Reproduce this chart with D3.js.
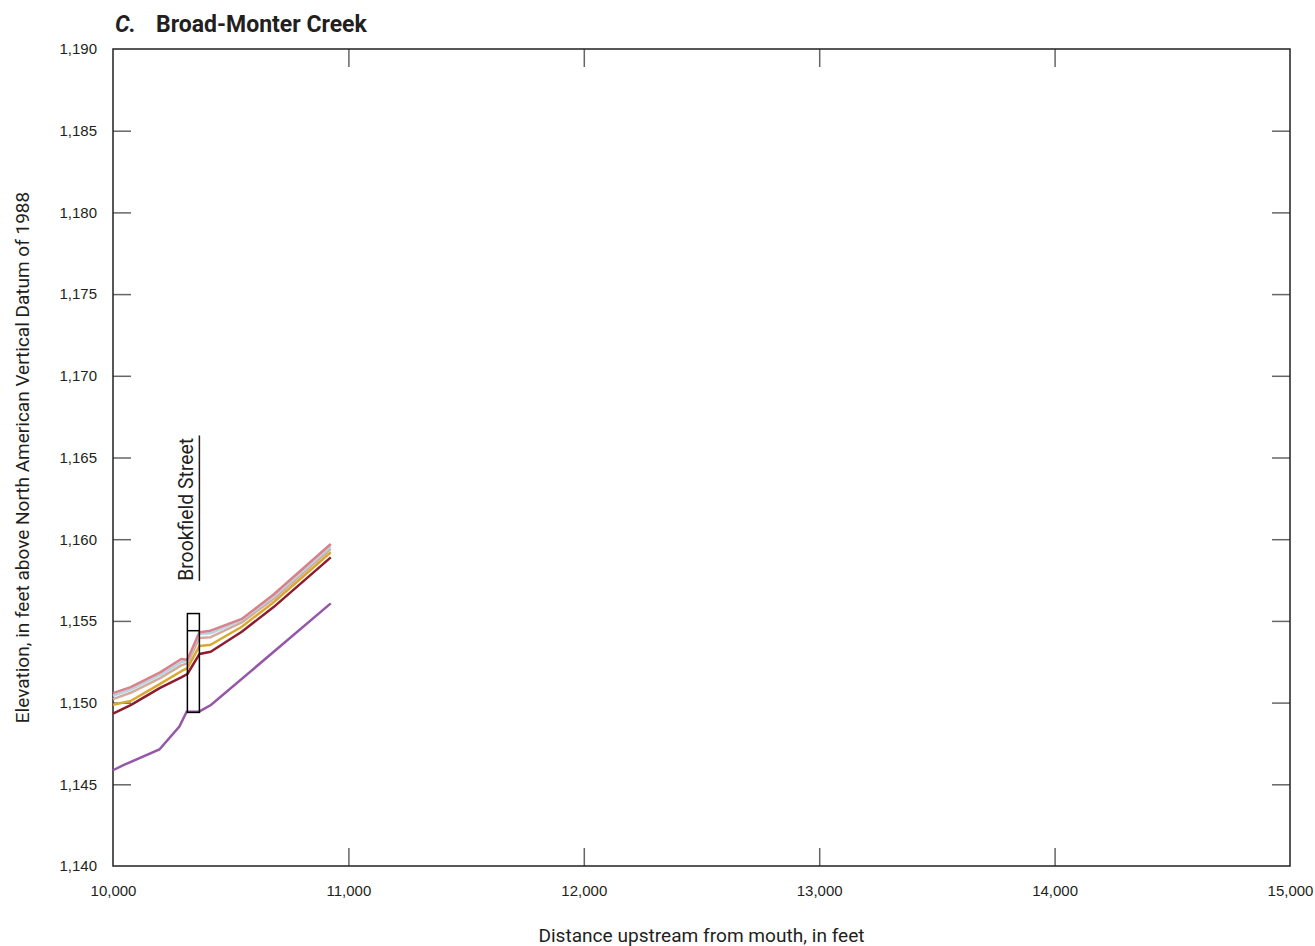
<!DOCTYPE html>
<html>
<head>
<meta charset="utf-8">
<script src="https://cdn.jsdelivr.net/npm/d3@7"></script>
<style>
  body { margin: 0; background: #fff; }
  svg { display: block; font-family: "Roboto", "Liberation Sans", sans-serif; }
</style>
</head>
<body>
<script>
// data
const stations = [10000, 10075, 10200, 10290, 10316, 10367, 10415, 10547, 10681, 10925];
const wse500 = [1150.58, 1150.95, 1151.85, 1152.67, 1152.62, 1154.30, 1154.40, 1155.12, 1156.60, 1159.71];
const wse200 = [1150.42, 1150.80, 1151.70, 1152.48, 1152.56, 1154.20, 1154.24, 1155.06, 1156.48, 1159.55];
const wse100 = [1150.21, 1150.60, 1151.50, 1152.28, 1152.40, 1153.95, 1154.00, 1154.91, 1156.34, 1159.41];
const wse50 = [1149.87, 1150.10, 1151.15, 1151.92, 1152.11, 1153.46, 1153.54, 1154.64, 1156.13, 1159.20];
const wse10 = [1149.33, 1149.85, 1150.90, 1151.55, 1151.75, 1152.97, 1153.11, 1154.34, 1155.83, 1158.89];

const bedStations = [10000, 10044, 10197, 10282, 10313, 10367, 10416, 10925];
const bedElev = [1145.86, 1146.17, 1147.13, 1148.54, 1149.44, 1149.46, 1149.85, 1156.07];

const bridgeX = [10316, 10367];
const bridgeTop = 1155.45;
const bridgeLowChord = 1154.4;
const bridgeBottom = 1149.4;
const bridgeName = "Brookfield Street";

const xTicks = [10000, 11000, 12000, 13000, 14000, 15000];
const yTicks = [1140, 1145, 1150, 1155, 1160, 1165, 1170, 1175, 1180, 1185, 1190];

const width = 1315;
const height = 946;
const marginTop = 49;
const marginRight = 25;
const marginBottom = 80;
const marginLeft = 113;

const x = d3.scaleLinear()
    .domain([10000, 15000])
    .range([marginLeft, width - marginRight]);

const y = d3.scaleLinear()
    .domain([1140, 1190])
    .range([height - marginBottom, marginTop]);

const fmt = d3.format(",");

const svg = d3.select("body").append("svg")
    .attr("width", width)
    .attr("height", height)
    .attr("viewBox", [0, 0, width, height]);

// ticks point inward on all four sides
const tickLen = 18;
function styleAxis(g) {
    g.select(".domain").remove();
    g.selectAll(".tick line").attr("stroke", "#666").attr("stroke-width", 1.5);
    g.selectAll(".tick text").attr("fill", "#231f20").attr("font-size", 15);
}

svg.append("g")
    .attr("transform", `translate(0,${height - marginBottom})`)
    .call(d3.axisBottom(x).tickValues(xTicks).tickFormat(fmt).tickSizeInner(-tickLen).tickPadding(19))
    .call(styleAxis)
    .call(g => g.selectAll(".tick line").filter(d => d === 10000 || d === 15000).remove());

svg.append("g")
    .attr("transform", `translate(0,${marginTop})`)
    .call(d3.axisTop(x).tickValues(xTicks).tickFormat("").tickSizeInner(-tickLen))
    .call(styleAxis)
    .call(g => g.selectAll(".tick line").filter(d => d === 10000 || d === 15000).remove());

svg.append("g")
    .attr("transform", `translate(${marginLeft},0)`)
    .call(d3.axisLeft(y).tickValues(yTicks).tickFormat(fmt).tickSizeInner(-tickLen).tickPadding(16))
    .call(styleAxis)
    .call(g => g.selectAll(".tick line").filter(d => d === 1140 || d === 1190).remove());

svg.append("g")
    .attr("transform", `translate(${width - marginRight},0)`)
    .call(d3.axisRight(y).tickValues(yTicks).tickFormat("").tickSizeInner(-tickLen))
    .call(styleAxis)
    .call(g => g.selectAll(".tick line").filter(d => d === 1140 || d === 1190).remove());

// plot frame
svg.append("rect")
    .attr("x", marginLeft)
    .attr("y", marginTop)
    .attr("width", width - marginLeft - marginRight)
    .attr("height", height - marginTop - marginBottom)
    .attr("fill", "none")
    .attr("stroke", "#231f20")
    .attr("stroke-width", 1.5);

// profile lines
const line = d3.line()
    .x(d => x(d[0]))
    .y(d => y(d[1]));

const series = [
    { values: wse10, color: "#8c1c2e" },
    { values: wse50, color: "#d9a82e" },
    { values: wse100, color: "#d3ab9b" },
    { values: wse200, color: "#b9d2e3" },
    { values: wse500, color: "#d9808a" }
];

svg.append("path")
    .datum(d3.zip(bedStations, bedElev))
    .attr("fill", "none")
    .attr("stroke", "#9457a9")
    .attr("stroke-width", 2.5)
    .attr("d", line);

series.forEach(s => {
    svg.append("path")
        .datum(d3.zip(stations, s.values))
        .attr("fill", "none")
        .attr("stroke", s.color)
        .attr("stroke-width", 2.5)
        .attr("stroke-linejoin", "round")
        .attr("d", line);
});

// bridge
svg.append("rect")
    .attr("x", x(bridgeX[0]))
    .attr("y", y(bridgeTop))
    .attr("width", x(bridgeX[1]) - x(bridgeX[0]))
    .attr("height", y(bridgeBottom) - y(bridgeTop))
    .attr("fill", "none")
    .attr("stroke", "#000")
    .attr("stroke-width", 1.5);

svg.append("line")
    .attr("x1", x(bridgeX[0]))
    .attr("x2", x(bridgeX[1]))
    .attr("y1", y(bridgeLowChord))
    .attr("y2", y(bridgeLowChord))
    .attr("stroke", "#000")
    .attr("stroke-width", 1.5);

// bridge label with leader line
svg.append("line")
    .attr("x1", x(bridgeX[1]))
    .attr("x2", x(bridgeX[1]))
    .attr("y1", y(1166.35))
    .attr("y2", y(1157.45))
    .attr("stroke", "#231f20")
    .attr("stroke-width", 1.5);

svg.append("text")
    .attr("transform", `translate(${x(bridgeX[1]) - 6},${y(1157.45)}) rotate(-90)`)
    .attr("text-anchor", "start")
    .attr("font-size", 19.4)
    .attr("fill", "#231f20")
    .text(bridgeName);

// title
const title = svg.append("text")
    .attr("x", 115)
    .attr("y", 32)
    .attr("font-size", 23)
    .attr("font-weight", "bold")
    .attr("fill", "#231f20");
title.append("tspan").attr("font-style", "italic").text("C.");
title.append("tspan").attr("x", 156).text("Broad-Monter Creek");

// axis titles
svg.append("text")
    .attr("x", (marginLeft + width - marginRight) / 2)
    .attr("y", 942)
    .attr("text-anchor", "middle")
    .attr("font-size", 19.1)
    .attr("fill", "#231f20")
    .text("Distance upstream from mouth, in feet");

svg.append("text")
    .attr("transform", `translate(29,${(marginTop + height - marginBottom) / 2}) rotate(-90)`)
    .attr("text-anchor", "middle")
    .attr("font-size", 19)
    .attr("fill", "#231f20")
    .text("Elevation, in feet above North American Vertical Datum of 1988");
</script>
</body>
</html>
